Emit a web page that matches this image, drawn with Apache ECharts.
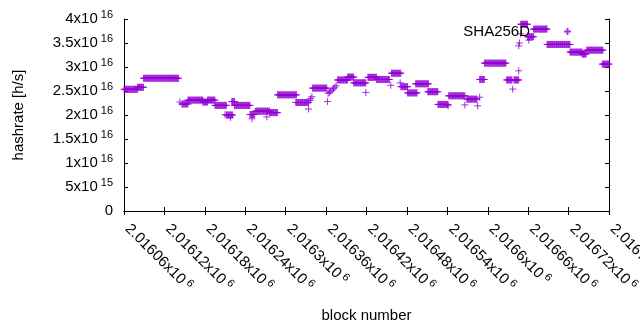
<!DOCTYPE html>
<html>
<head>
<meta charset="utf-8">
<script src="https://cdn.jsdelivr.net/npm/echarts@6/dist/echarts.min.js"></script>
<style>
  html, body { margin: 0; padding: 0; background: #fff; }
  #chart { width: 640px; height: 330px; }
</style>
</head>
<body>
<div id="chart"></div>
<script>
// runs of blocks with the same hashrate estimate (first block, last block, h/s)
var runStart = [2016060, 2016080, 2016089, 2016146, 2016155, 2016177, 2016184, 2016195, 2016212, 2016220, 2016224, 2016247, 2016255, 2016276, 2016288, 2016315, 2016340, 2016377, 2016392, 2016401, 2016422, 2016435, 2016457, 2016471, 2016481, 2016493, 2016511, 2016526, 2016542, 2016569, 2016588, 2016595, 2016628, 2016639, 2016649, 2016659, 2016668, 2016688, 2016722, 2016740, 2016747, 2016770];
var runEnd   = [2016080, 2016089, 2016141, 2016155, 2016177, 2016184, 2016195, 2016212, 2016221, 2016224, 2016247, 2016254, 2016276, 2016288, 2016316, 2016334, 2016361, 2016392, 2016401, 2016419, 2016435, 2016454, 2016471, 2016481, 2016495, 2016512, 2016526, 2016541, 2016566, 2016584, 2016595, 2016627, 2016636, 2016646, 2016659, 2016668, 2016688, 2016722, 2016740, 2016746, 2016771, 2016780];
var runValue = [2.535e16, 2.577e16, 2.765e16, 2.23e16, 2.31e16, 2.27e16, 2.31e16, 2.20e16, 2.00e16, 2.28e16, 2.20e16, 2.01e16, 2.08e16, 2.05e16, 2.42e16, 2.26e16, 2.56e16, 2.73e16, 2.79e16, 2.67e16, 2.785e16, 2.74e16, 2.87e16, 2.59e16, 2.46e16, 2.65e16, 2.485e16, 2.22e16, 2.40e16, 2.33e16, 2.74e16, 3.08e16, 2.73e16, 2.73e16, 3.89e16, 3.63e16, 3.79e16, 3.47e16, 3.31e16, 3.27e16, 3.35e16, 3.06e16];
// isolated blocks
var oneBlock = [2016143, 2016210, 2016218, 2016250, 2016272, 2016334, 2016336, 2016337, 2016339, 2016362, 2016363, 2016365, 2016367, 2016369, 2016371, 2016373, 2016375, 2016419, 2016456, 2016470, 2016541, 2016566, 2016585, 2016588, 2016637, 2016646, 2016646, 2016647, 2016649, 2016661];
var oneValue = [2.27e16, 2.006e16, 1.95e16, 1.92e16, 1.96e16, 2.125e16, 2.30e16, 2.34e16, 2.38e16, 2.28e16, 2.45e16, 2.47e16, 2.50e16, 2.52e16, 2.55e16, 2.58e16, 2.61e16, 2.47e16, 2.62e16, 2.67e16, 2.19e16, 2.21e16, 2.19e16, 2.37e16, 2.54e16, 2.92e16, 3.44e16, 3.50e16, 3.69e16, 3.56e16];
var seriesName = "SHA256D";
var xMin = 2016060, xMax = 2016780, xStep = 60;
var yMin = 0, yMax = 4e16, yStep = 5e15;

var points = [];
for (var i = 0; i < runStart.length; i++) {
    for (var b = runStart[i]; b <= runEnd[i]; b++) {
        points.push([b, runValue[i]]);
    }
}
for (var j = 0; j < oneBlock.length; j++) {
    points.push([oneBlock[j], oneValue[j]]);
}

var purple = "#9400D3";
var font = "Liberation Sans";
var plus = "path://M0,3.5H7M3.5,0V7";

// gnuplot style numbers: 2.01606x10^6
function sciLabel(v) {
    if (v === 0) return "{a|0}";
    var e = Math.floor(Math.log10(v) + 1e-9);
    var m = parseFloat((v / Math.pow(10, e)).toFixed(6));
    return "{a|" + m + "x10}{s|" + e + "}";
}
function xLabel(v) {
    return "{p|}" + sciLabel(v);
}
var rich = {
    p: { width: 5 },
    a: { fontFamily: font, fontSize: 15, color: "#000" },
    s: { fontFamily: font, fontSize: 11, color: "#000", padding: [0, 0, 8, 3] }
};

var chart = echarts.init(document.getElementById("chart"), null, { renderer: "canvas" });
var option = {
    animation: false,
    backgroundColor: "#fff",
    grid: { left: 124, right: 31, top: 19, bottom: 119, containLabel: false, outerBoundsMode: "none" },
    legend: {
        data: [seriesName],
        right: 68,
        top: 24,
        padding: 0,
        align: "right",
        itemWidth: 7,
        itemHeight: 7,
        itemGap: 0,
        icon: plus,
        formatter: "{t|{name}}{g|}",
        textStyle: {
            fontFamily: font, fontSize: 15, color: "#000",
            rich: { t: { fontFamily: font, fontSize: 15, color: "#000" }, g: { width: 29 } }
        }
    },
    xAxis: [{
        type: "value",
        min: xMin, max: xMax, interval: xStep,
        name: "block number",
        nameLocation: "middle",
        nameGap: 97,
        nameTextStyle: { fontFamily: font, fontSize: 15, color: "#000" },
        axisLine: { lineStyle: { color: "#000", width: 1 } },
        axisTick: { inside: true, length: 4, lineStyle: { color: "#000" } },
        splitLine: { show: false },
        axisLabel: {
            rotate: -45, margin: 12, interval: 0,
            showMinLabel: true, showMaxLabel: true, hideOverlap: false,
            formatter: xLabel, rich: rich
        }
    }, {
        type: "value", position: "top",
        min: xMin, max: xMax, interval: xStep,
        axisLine: { lineStyle: { color: "#000", width: 1 } },
        axisTick: { inside: true, length: 4, lineStyle: { color: "#000" } },
        axisLabel: { show: false },
        splitLine: { show: false }
    }],
    yAxis: [{
        type: "value",
        min: yMin, max: yMax, interval: yStep,
        name: "hashrate [h/s]",
        nameLocation: "middle",
        nameRotate: 90,
        nameGap: 98,
        nameTextStyle: { fontFamily: font, fontSize: 15, color: "#000" },
        axisLine: { show: true, lineStyle: { color: "#000", width: 1 } },
        axisTick: { show: true, inside: true, length: 4, lineStyle: { color: "#000" } },
        splitLine: { show: false },
        axisLabel: { margin: 11, formatter: sciLabel, rich: rich }
    }, {
        type: "value", position: "right",
        min: yMin, max: yMax, interval: yStep,
        axisLine: { show: true, lineStyle: { color: "#000", width: 1 } },
        axisTick: { show: true, inside: true, length: 4, lineStyle: { color: "#000" } },
        axisLabel: { show: false },
        splitLine: { show: false }
    }],
    series: [{
        name: seriesName,
        type: "scatter",
        xAxisIndex: 0,
        yAxisIndex: 0,
        symbol: plus,
        symbolSize: 7,
        large: false,
        itemStyle: { color: purple, borderColor: purple, borderWidth: 1 },
        emphasis: { disabled: true },
        data: points
    }]
};
chart.setOption(option);
</script>
</body>
</html>
